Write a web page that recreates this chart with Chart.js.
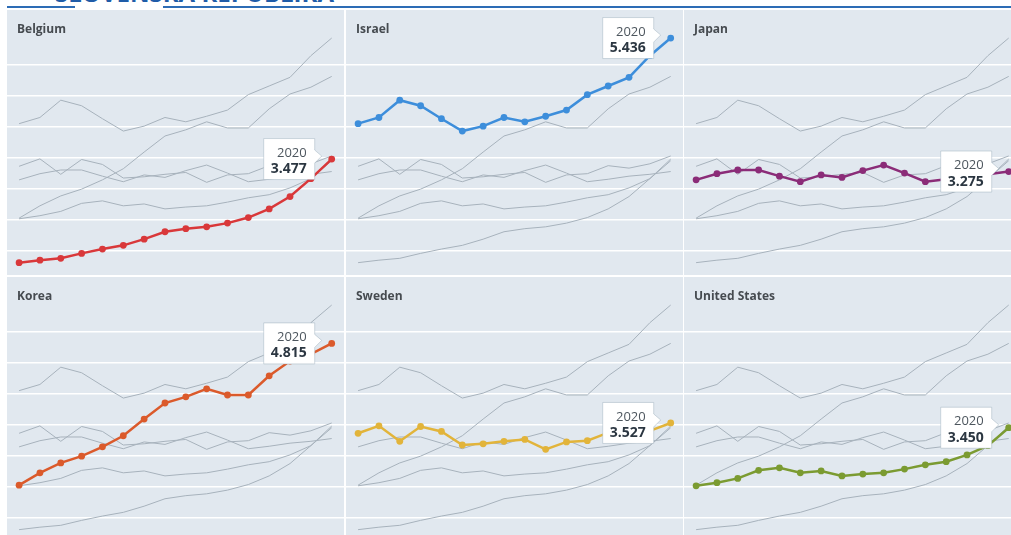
<!DOCTYPE html>
<html>
<head>
<meta charset="utf-8">
<script src="https://cdn.jsdelivr.net/npm/chart.js@4.4.0/dist/chart.umd.min.js"></script>
<style>
  body { margin: 0; width: 1011px; height: 535px; overflow: hidden; background: #fff; position: relative; font-family: "Open Sans", sans-serif; }
  .title { position: absolute; left: 55px; top: -19px; font-size: 24px; font-weight: 700; color: #1f5ca8; white-space: nowrap; line-height: 24px; }
  .rule { position: absolute; top: 6px; height: 2px; background: #2d6cb5; }
  .panel { position: absolute; width: 337px; height: 265px; background: #e1e8ef; }
  .panel canvas { position: absolute; left: 0; top: 0; }
  .name { position: absolute; left: 10px; top: 10px; font-size: 12px; font-weight: 700; color: #464b50; }
</style>
</head>
<body>
<div class="title">SLOVENSKÁ REPUBLIKA</div>
<div class="rule" style="left:7px;width:68px"></div>
<div class="rule" style="left:163px;width:848px"></div>

<script>
// roky a hodnoty (výdavky na VaV, % HDP)
const years = [2005, 2006, 2007, 2008, 2009, 2010, 2011, 2012, 2013, 2014, 2015, 2016, 2017, 2018, 2019, 2020];
const belgium = [1.80, 1.84, 1.87, 1.95, 2.02, 2.08, 2.18, 2.30, 2.35, 2.38, 2.44, 2.53, 2.67, 2.87, 3.16, 3.477];
const israel  = [4.05, 4.15, 4.43, 4.34, 4.13, 3.93, 4.01, 4.15, 4.08, 4.17, 4.27, 4.52, 4.66, 4.80, 5.15, 5.436];
const japan   = [3.14, 3.24, 3.30, 3.30, 3.20, 3.11, 3.22, 3.18, 3.29, 3.38, 3.25, 3.11, 3.15, 3.20, 3.23, 3.275];
const korea   = [2.52, 2.72, 2.88, 2.99, 3.14, 3.32, 3.59, 3.85, 3.95, 4.08, 3.98, 3.98, 4.29, 4.53, 4.64, 4.815];
const sweden  = [3.36, 3.48, 3.23, 3.47, 3.39, 3.17, 3.19, 3.23, 3.26, 3.10, 3.22, 3.24, 3.37, 3.33, 3.40, 3.527];
const usa     = [2.51, 2.56, 2.63, 2.76, 2.80, 2.72, 2.75, 2.67, 2.70, 2.72, 2.78, 2.85, 2.90, 3.01, 3.16, 3.450];

const countries = ['Belgium', 'Israel', 'Japan', 'Korea', 'Sweden', 'United States'];
const series = [belgium, israel, japan, korea, sweden, usa];
const colors = ['#d9383a', '#3d8edb', '#8b2c78', '#db5a2b', '#e2b43a', '#7b9b31'];
const gridValues = [2.0, 2.5, 3.0, 3.5, 4.0, 4.5, 5.0];

const panelX = [7, 346, 684];
const panelY = [10, 277];

// bublina s poslednou hodnotou
const callout = {
    id: 'callout',
    afterDatasetsDraw(chart) {
        const meta = chart.getDatasetMeta(0);
        const pt = meta.data[meta.data.length - 1];
        const vals = chart.data.datasets[0].data;
        const last = vals[vals.length - 1];
        const ctx = chart.ctx;
        const w = 51, h = 41;
        const right = pt.x - 17, left = right - w, top = pt.y - h / 2;
        ctx.save();
        ctx.fillStyle = '#fff';
        ctx.strokeStyle = 'rgba(150,170,185,0.45)';
        ctx.lineWidth = 1;
        ctx.beginPath();
        ctx.moveTo(left, top);
        ctx.lineTo(right, top);
        ctx.lineTo(right, pt.y - 9);
        ctx.lineTo(pt.x - 10, pt.y - 3);
        ctx.lineTo(right, pt.y + 4);
        ctx.lineTo(right, top + h);
        ctx.lineTo(left, top + h);
        ctx.closePath();
        ctx.fill();
        ctx.stroke();
        ctx.textAlign = 'right';
        ctx.textBaseline = 'middle';
        ctx.fillStyle = '#4d565e';
        ctx.font = '13px "Open Sans"';
        ctx.fillText(String(last.x), right - 8, pt.y - 6);
        ctx.fillStyle = '#2b3641';
        ctx.font = 'bold 14px "Open Sans"';
        ctx.fillText(last.y.toFixed(3), right - 8, pt.y + 10);
        ctx.restore();
    }
};

countries.forEach((name, i) => {
    const panel = document.createElement('div');
    panel.className = 'panel';
    panel.style.left = panelX[i % 3] + 'px';
    panel.style.top = panelY[Math.floor(i / 3)] + 'px';
    const canvas = document.createElement('canvas');
    canvas.width = 337;
    canvas.height = 265;
    panel.appendChild(canvas);
    const label = document.createElement('div');
    label.className = 'name';
    label.textContent = name;
    panel.appendChild(label);
    document.body.appendChild(panel);

    const toPoints = vals => years.map((y, k) => ({ x: y, y: vals[k] }));
    const datasets = [{
        data: toPoints(series[i]),
        borderColor: colors[i],
        backgroundColor: colors[i],
        borderWidth: 2.5,
        pointRadius: 3.4,
        pointBorderWidth: 0,
        tension: 0
    }];
    series.forEach((vals, j) => {
        if (j === i) return;
        datasets.push({
            data: toPoints(vals),
            borderColor: '#a7b2bc',
            borderWidth: 1,
            pointRadius: 0,
            tension: 0
        });
    });

    new Chart(canvas, {
        type: 'line',
        data: { datasets: datasets },
        plugins: [callout],
        options: {
            responsive: false,
            animation: false,
            events: [],
            layout: { padding: 0, autoPadding: false },
            plugins: { legend: { display: false }, tooltip: { enabled: false } },
            scales: {
                x: { type: 'linear', min: 2004.42, max: 2020.59, display: false },
                y: {
                    min: 1.60, max: 5.89,
                    afterBuildTicks: scale => { scale.ticks = gridValues.map(v => ({ value: v })); },
                    ticks: { display: false },
                    border: { display: false },
                    grid: { color: '#ffffff', lineWidth: 1.5, drawTicks: false }
                }
            }
        }
    });
});
</script>
</body>
</html>
